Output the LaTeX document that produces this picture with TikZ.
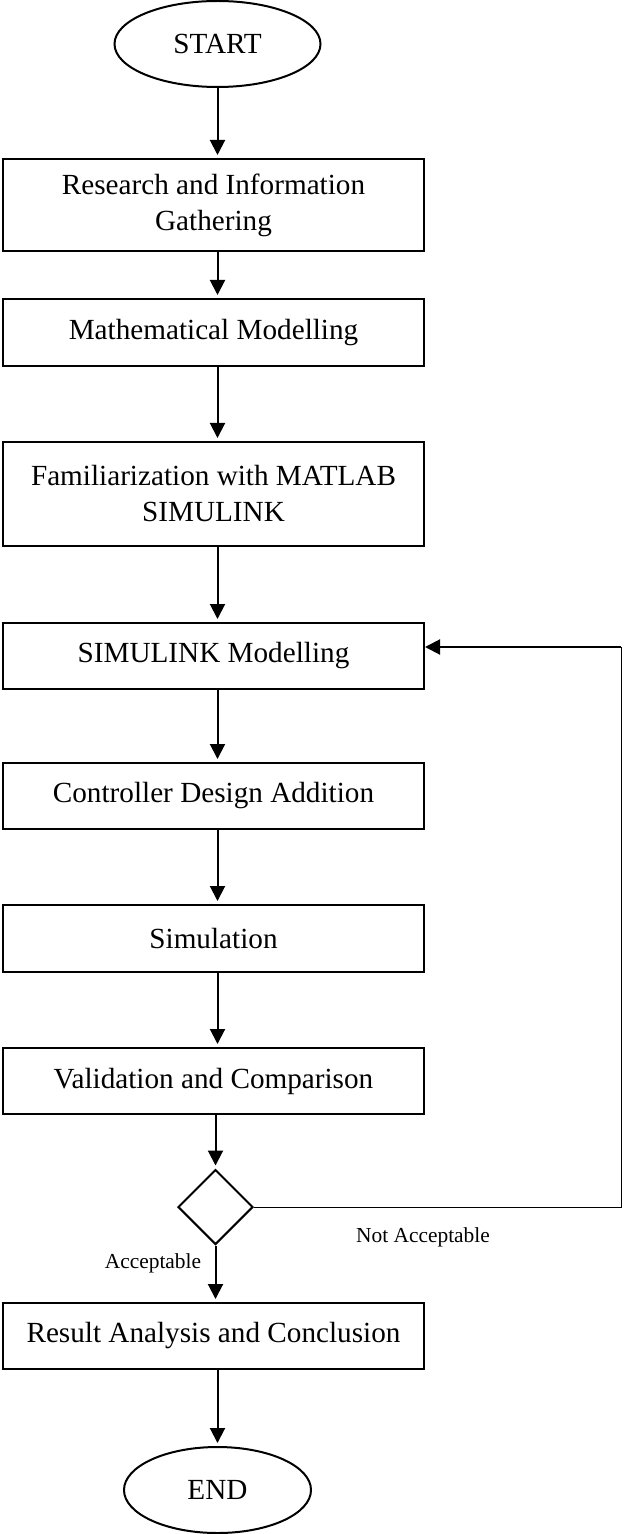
\documentclass[tikz,border=0pt]{standalone}
\usepackage{fontspec}
\setmainfont{Liberation Serif}
\usetikzlibrary{arrows.meta,positioning,shapes.geometric,calc}

\begin{document}
\begin{tikzpicture}[x=0.5pt,y=-0.5pt,>={Triangle[length=7.5pt,width=7.5pt]},
   font=\fontsize{14.6}{18}\selectfont,
   blk/.style={draw,line width=1pt,minimum width=210.5pt,inner sep=0pt,align=center},
   term/.style={draw,ellipse,line width=1pt,inner sep=0pt},
   dec/.style={draw,diamond,line width=1pt,minimum size=37.5pt,inner sep=0pt},
   lbl/.style={font=\fontsize{10.7}{13}\selectfont},
   arr/.style={->,line width=1pt,shorten >=1.5pt}]
  \useasboundingbox (0,0) rectangle (623,1534);
  \node[term,minimum width=103pt,minimum height=43pt] (start) at (217.5,44) {START};
  \node[blk,minimum height=46pt] (res) at (213.5,205) {Research and Information\\Gathering};
  \node[blk,minimum height=33.5pt] (math) at (213.5,332.5) {Mathematical Modelling};
  \node[blk,minimum height=52pt] (fam) at (213.5,494) {Familiarization with MATLAB\\SIMULINK};
  \node[blk,minimum height=33pt] (sim) at (213.5,656) {SIMULINK Modelling};
  \node[blk,minimum height=33pt] (ctrl) at (213.5,796) {Controller Design Addition};
  \node[blk,minimum height=33.5pt] (simu) at (213.5,938.5) {Simulation};
  \node[blk,minimum height=33pt] (val) at (213.5,1081) {Validation and Comparison};
  \node[dec] (dec) at (215.5,1207) {};
  \node[blk,minimum height=33pt] (rac) at (213.5,1336) {Result Analysis and Conclusion};
  \node[term,minimum width=93.5pt,minimum height=43pt] (fin) at (217.5,1490) {END};
  \node[lbl] (nacc) at (423,1237) {Not Acceptable};
  \node[lbl] (acc) at (153,1263) {Acceptable};
  % main flow
  \draw[arr] (start.south) -- (res.north -| start.south);
  \draw[arr] (res.south -| start) -- (math.north -| start);
  \draw[arr] (math.south -| start) -- (fam.north -| start);
  \draw[arr] (fam.south -| start) -- (sim.north -| start);
  \draw[arr] (sim.south -| start) -- (ctrl.north -| start);
  \draw[arr] (ctrl.south -| start) -- (simu.north -| start);
  \draw[arr] (simu.south -| start) -- (val.north -| start);
  \draw[arr] (val.south -| dec) -- (dec.north);
  \draw[arr] (dec.south) -- (rac.north -| dec);
  \draw[arr] (rac.south -| fin) -- (fin.north);
  % feedback loop
  \coordinate (fb) at (621,647);
  \draw[line width=0.5pt] (dec.east) -| (fb);
  \draw[arr,shorten >=0pt] (fb) -- (fb -| sim.east);
\end{tikzpicture}
\end{document}
